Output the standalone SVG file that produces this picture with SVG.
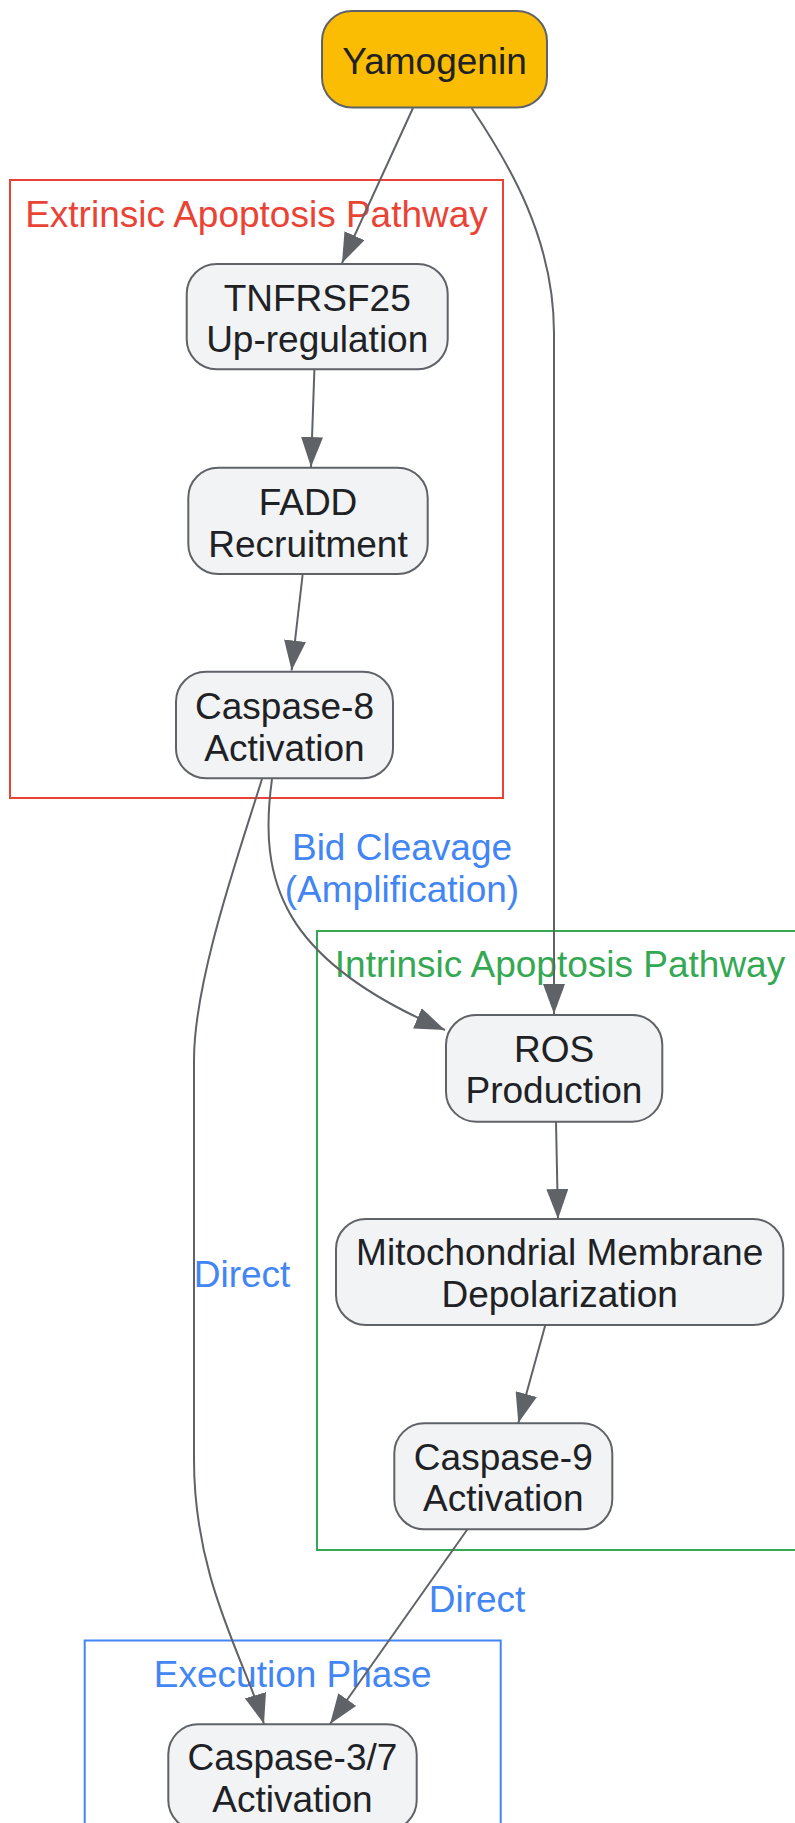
<svg xmlns="http://www.w3.org/2000/svg" width="795" height="1823" viewBox="0 0 795 1823">
<defs>
<style>
.node rect{fill:#f1f3f4;stroke:#5f6368;stroke-width:2}
.node text{font-family:"Liberation Sans",Arial,sans-serif;font-size:37px;fill:#202124;text-anchor:middle}
.cluster rect{fill:none;stroke-width:2}
.cluster text{font-family:"Liberation Sans",Arial,sans-serif;font-size:37px;text-anchor:middle}
.edge{fill:none;stroke:#5f6368;stroke-width:2;marker-end:url(#arrow)}
.elabel{font-family:"Liberation Sans",Arial,sans-serif;font-size:37px;fill:#4285f4;text-anchor:middle}
</style>
<marker id="arrow" viewBox="0 0 30 22" refX="30" refY="11" markerWidth="30" markerHeight="22" markerUnits="userSpaceOnUse" orient="auto">
<path d="M0,0 L30,11 L0,22 z" fill="#5f6368"/>
</marker>
</defs>
<rect width="795" height="1823" fill="#ffffff"/>
<g id="clusters">
<g id="extrinsic" class="cluster"><rect x="10" y="180" width="493" height="618" style="stroke:#ea4335"/><text x="256.5" y="226.7" fill="#ea4335">Extrinsic Apoptosis Pathway</text></g>
<g id="intrinsic" class="cluster"><rect x="317" y="931" width="486" height="619" style="stroke:#34a853"/><text x="560" y="976.7" fill="#34a853">Intrinsic Apoptosis Pathway</text></g>
<g id="execution" class="cluster"><rect x="84.7" y="1640.5" width="416" height="220" style="stroke:#4285f4"/><text x="292.7" y="1687.3" fill="#4285f4">Execution Phase</text></g>
</g>
<g id="connectors">
<path class="edge" d="M413,108 L342,263"/>
<path class="edge" d="M471.6,108 C510,165 554,240 554,333 L554,1014"/>
<path class="edge" d="M314.4,369.5 L311,467"/>
<path class="edge" d="M302.7,574 L291.6,670.5"/>
<path class="edge" d="M262,779 C240,850 194,980 194,1060 L194,1460 C194,1580 245,1660 264,1724"/>
<path class="edge" d="M272,779 C258,880 280,960 445,1030"/>
<path class="edge" d="M556,1122 L558,1219"/>
<path class="edge" d="M545.3,1325 L518.3,1423"/>
<path class="edge" d="M467.3,1529.5 L330,1724"/>
<text class="elabel" x="402" y="860">Bid Cleavage</text>
<text class="elabel" x="402" y="901.7">(Amplification)</text>
<text class="elabel" x="242" y="1286.7">Direct</text>
<text class="elabel" x="477" y="1612.3">Direct</text>
</g>
<g id="yamogenin" class="node"><rect x="322" y="11" width="225" height="96.5" rx="30" ry="30" style="fill:#fbbc04"/><text x="434.5" y="74">Yamogenin</text></g>
<g id="tnfrsf25" class="node"><rect x="186.7" y="264" width="261" height="105.3" rx="30" ry="30"/><text x="317.2" y="311">TNFRSF25</text><text x="317.2" y="351.7">Up-regulation</text></g>
<g id="fadd" class="node"><rect x="188.3" y="467.7" width="239.4" height="106.3" rx="30" ry="30"/><text x="308" y="515">FADD</text><text x="308" y="556.7">Recruitment</text></g>
<g id="casp8" class="node"><rect x="176" y="671.7" width="217" height="106.6" rx="30" ry="30"/><text x="284.5" y="719">Caspase-8</text><text x="284.5" y="761">Activation</text></g>
<g id="ros" class="node"><rect x="446" y="1015" width="216.3" height="106.7" rx="30" ry="30"/><text x="554" y="1061.7">ROS</text><text x="554" y="1103.3">Production</text></g>
<g id="mito" class="node"><rect x="336" y="1219" width="447.3" height="106" rx="30" ry="30"/><text x="559.7" y="1265">Mitochondrial Membrane</text><text x="559.7" y="1307.3">Depolarization</text></g>
<g id="casp9" class="node"><rect x="394.3" y="1423.3" width="218" height="106" rx="30" ry="30"/><text x="503.3" y="1470">Caspase-9</text><text x="503.3" y="1510.7">Activation</text></g>
<g id="casp37" class="node"><rect x="168.3" y="1724.3" width="248.4" height="106" rx="30" ry="30"/><text x="292.5" y="1770">Caspase-3/7</text><text x="292.5" y="1811.7">Activation</text></g>
</svg>
